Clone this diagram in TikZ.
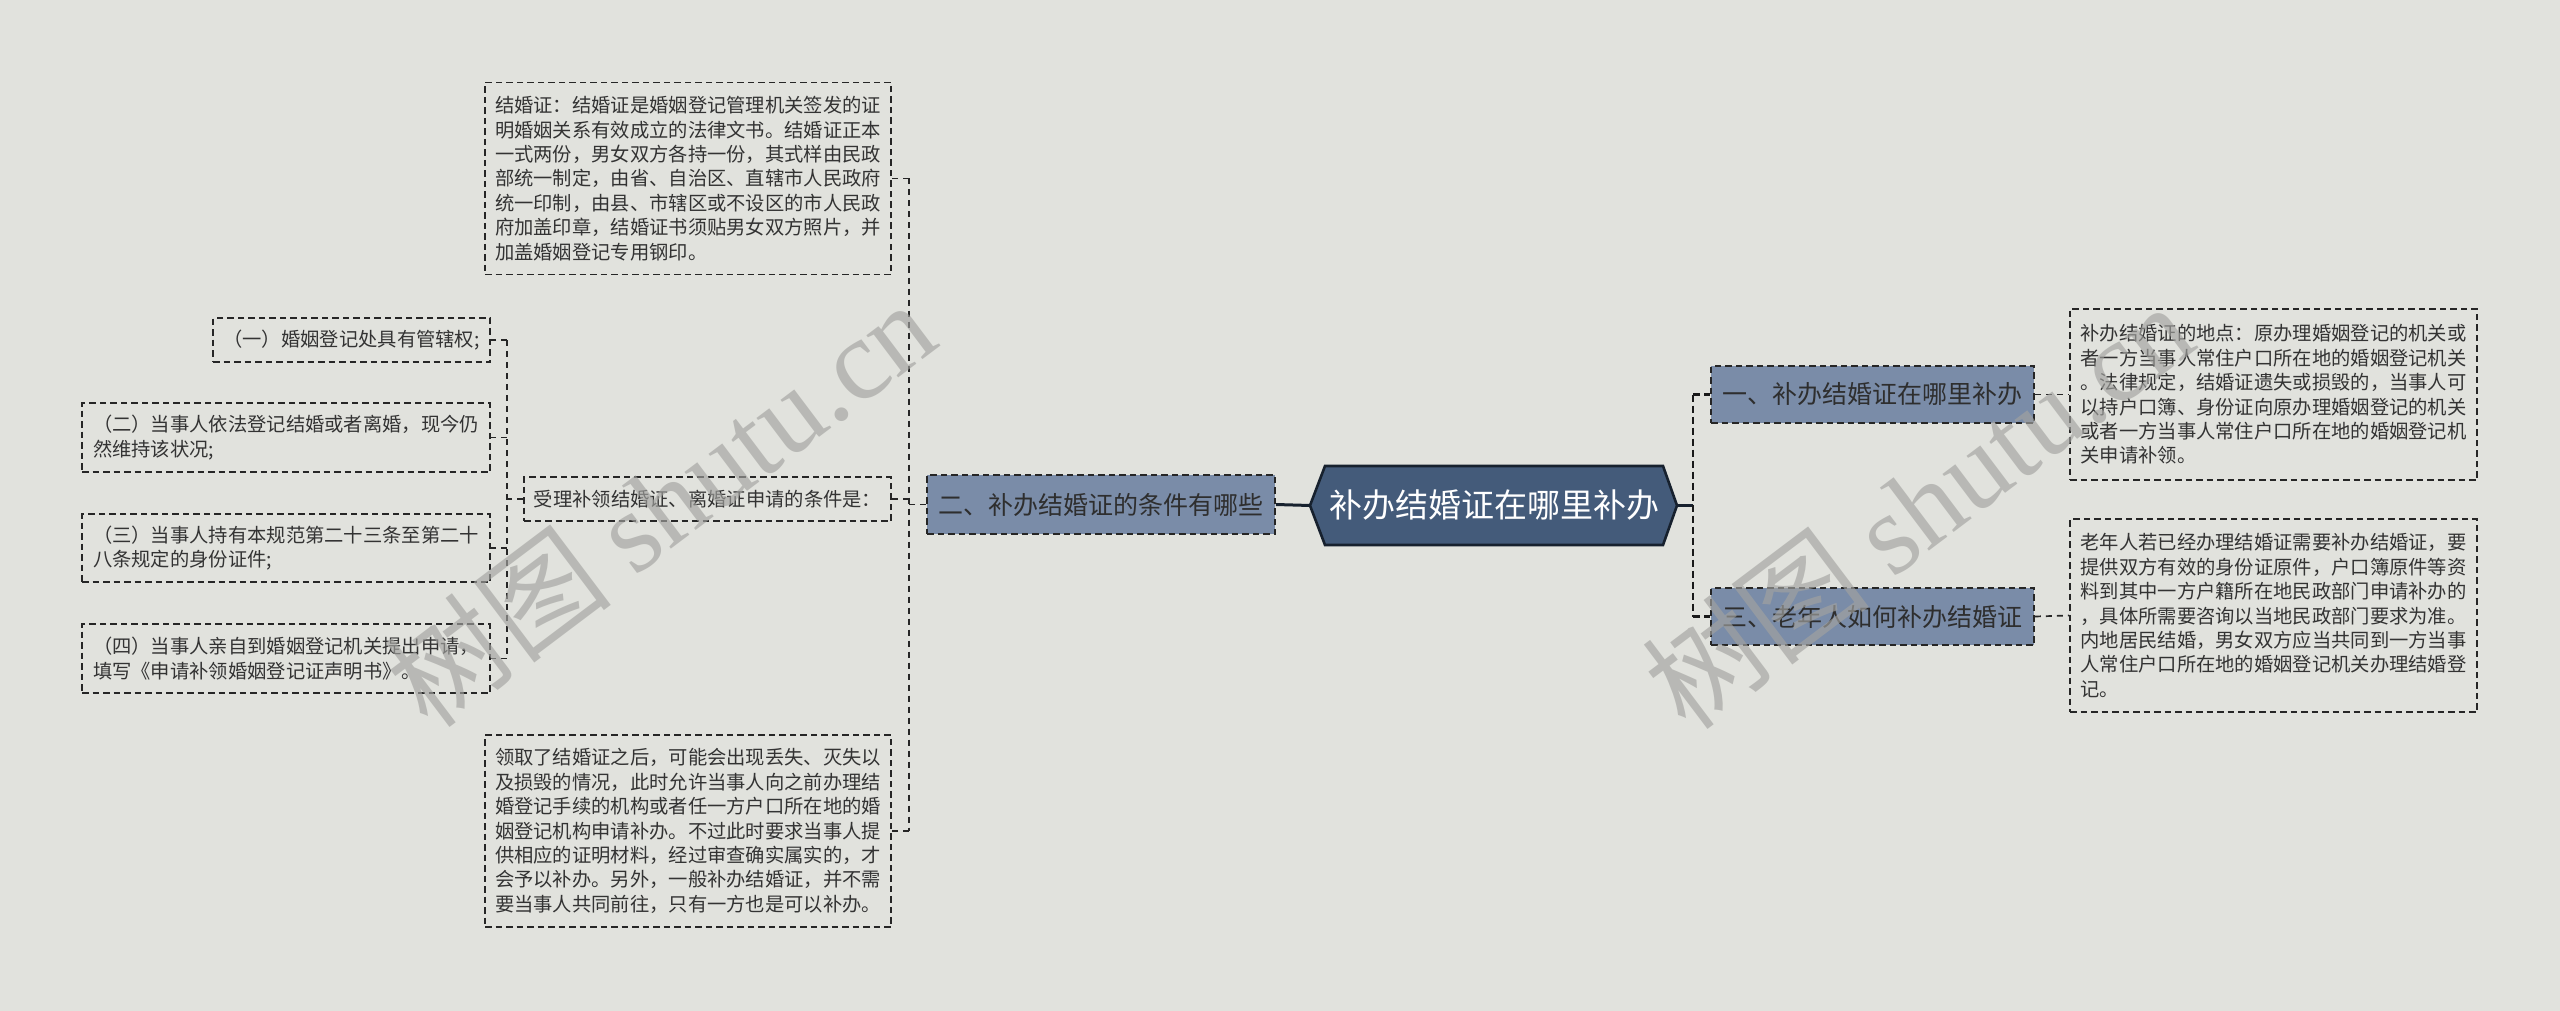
\documentclass[tikz,border=0pt]{standalone}
\usepackage{fontspec}
\setmainfont{Noto Sans CJK SC}
\newfontfamily\wmserif{Liberation Serif}
\usetikzlibrary{calc}
\definecolor{bgc}{HTML}{E1E2DD}
\definecolor{brfill}{HTML}{7A8CA8}
\definecolor{rootfill}{HTML}{445B7A}
\definecolor{rootedge}{HTML}{17212E}
\definecolor{txt}{HTML}{333333}
\definecolor{edgec}{HTML}{262626}
\definecolor{wmc}{HTML}{A3A3A0}
\begin{document}
\begin{tikzpicture}[x=1pt,y=-1pt,
  leaf/.style={draw=edgec, line width=1.7pt, dash pattern=on 6.5pt off 4pt, text=txt,
    font=\fontsize{19.3}{24.4}\selectfont, align=left, inner sep=0pt},
  branch/.style={draw=edgec, fill=brfill, line width=1.7pt, dash pattern=on 6.5pt off 4pt,
    text=black!82, font=\fontsize{25}{30}\selectfont, inner sep=0pt},
  conn/.style={draw=edgec, line width=1.7pt, dash pattern=on 6pt off 5pt},
  trunk/.style={draw=black!90, line width=2.8pt, dash pattern=on 7pt off 4pt},
  rootline/.style={draw=rootedge, line width=3pt},
  wmark/.style={text=wmc, opacity=0.65, rotate=37, inner sep=0pt}
]
\useasboundingbox[fill=bgc] (0,0) rectangle (2560,1011);

% ---------- root ----------
\coordinate (rootL) at (1310,505.5);
\coordinate (rootR) at (1677,505.5);
\filldraw[fill=rootfill, draw=rootedge, line width=2.6pt, line join=miter]
  (1325,466) -- (1663,466) -- (rootR) -- (1663,545) -- (1325,545) -- (rootL) -- cycle;
\node[text=white, inner sep=0pt, font=\fontsize{33}{40}\selectfont] (root) at (1494,505.5) {补办结婚证在哪里补办};

% ---------- right side ----------
\node[branch, minimum width=323, minimum height=57] (B1) at (1872.5,394.5) {一、补办结婚证在哪里补办};
\node[branch, minimum width=323, minimum height=57] (B3) at (1872.5,616.5) {三、老年人如何补办结婚证};

\node[leaf, minimum width=407, minimum height=171] (R1) at (2273.5,394.5) {补办结婚证的地点：原办理婚姻登记的机关或\\
者一方当事人常住户口所在地的婚姻登记机关\\
。法律规定，结婚证遗失或损毁的，当事人可\\
以持户口簿、身份证向原办理婚姻登记的机关\\
或者一方当事人常住户口所在地的婚姻登记机\\
关申请补领。};

\node[leaf, minimum width=407, minimum height=193] (R3) at (2273.5,615.5) {老年人若已经办理结婚证需要补办结婚证，要\\
提供双方有效的身份证原件，户口簿原件等资\\
料到其中一方户籍所在地民政部门申请补办的\\
，具体所需要咨询以当地民政部门要求为准。\\
内地居民结婚，男女双方应当共同到一方当事\\
人常住户口所在地的婚姻登记机关办理结婚登\\
记。};

\coordinate (jR) at (1693,505.5);
\draw[rootline] (rootR) -- (jR);
\draw[trunk] (jR |- B1.west) -- (jR |- B3.west);
\draw[trunk] (jR |- B1.west) -- (B1.west);
\draw[trunk] (jR |- B3.west) -- (B3.west);
\draw[conn] (B1.east) -- (R1.west);
\draw[conn] (B3.east) -- (R3.west);

% ---------- left side ----------
\node[branch, minimum width=348, minimum height=59] (B2) at (1101,504.5) {二、补办结婚证的条件有哪些};
\draw[rootline] (rootL) -- (B2.east);

\node[leaf, minimum width=406, minimum height=192] (L1) at (688,178.5) {结婚证：结婚证是婚姻登记管理机关签发的证\\
明婚姻关系有效成立的法律文书。结婚证正本\\
一式两份，男女双方各持一份，其式样由民政\\
部统一制定，由省、自治区、直辖市人民政府\\
统一印制，由县、市辖区或不设区的市人民政\\
府加盖印章，结婚证书须贴男女双方照片，并\\
加盖婚姻登记专用钢印。};

\node[leaf, minimum width=367, minimum height=44] (L2) at (707.5,499) {受理补领结婚证、离婚证申请的条件是：};

\node[leaf, minimum width=406, minimum height=192] (L3) at (688,831) {领取了结婚证之后，可能会出现丢失、灭失以\\
及损毁的情况，此时允许当事人向之前办理结\\
婚登记手续的机构或者任一方户口所在地的婚\\
姻登记机构申请补办。不过此时要求当事人提\\
供相应的证明材料，经过审查确实属实的，才\\
会予以补办。另外，一般补办结婚证，并不需\\
要当事人共同前往，只有一方也是可以补办。};

\coordinate (jL) at (909,504.5);
\draw[conn] (B2.west) -- (jL);
\draw[conn] (jL |- L1.east) -- (jL |- L3.east);
\draw[conn] (jL |- L1.east) -- (L1.east);
\draw[conn] (jL |- L2.east) -- (L2.east);
\draw[conn] (jL |- L3.east) -- (L3.east);

\node[leaf, minimum width=277, minimum height=44] (S1) at (351.5,340) {（一）婚姻登记处具有管辖权;};
\node[leaf, minimum width=408, minimum height=69] (S2) at (286,437.5) {（二）当事人依法登记结婚或者离婚，现今仍\\
然维持该状况;};
\node[leaf, minimum width=408, minimum height=68] (S3) at (286,548) {（三）当事人持有本规范第二十三条至第二十\\
八条规定的身份证件;};
\node[leaf, minimum width=408, minimum height=69] (S4) at (286,658.5) {（四）当事人亲自到婚姻登记机关提出申请，\\
填写《申请补领婚姻登记证声明书》。};

\coordinate (jS) at (507,499);
\draw[conn] (L2.west) -- (jS);
\draw[conn] (jS |- S1.east) -- (jS |- S4.east);
\draw[conn] (jS |- S1.east) -- (S1.east);
\draw[conn] (jS |- S2.east) -- (S2.east);
\draw[conn] (jS |- S3.east) -- (S3.east);
\draw[conn] (jS |- S4.east) -- (S4.east);

% ---------- watermarks ----------
\node[wmark] (wm1) at (660,503) {\fontsize{115}{115}\selectfont 树图 {\wmserif shutu.cn}};
\node[wmark] (wm2) at (1918,505) {\fontsize{115}{115}\selectfont 树图 {\wmserif shutu.cn}};
\end{tikzpicture}
\end{document}
